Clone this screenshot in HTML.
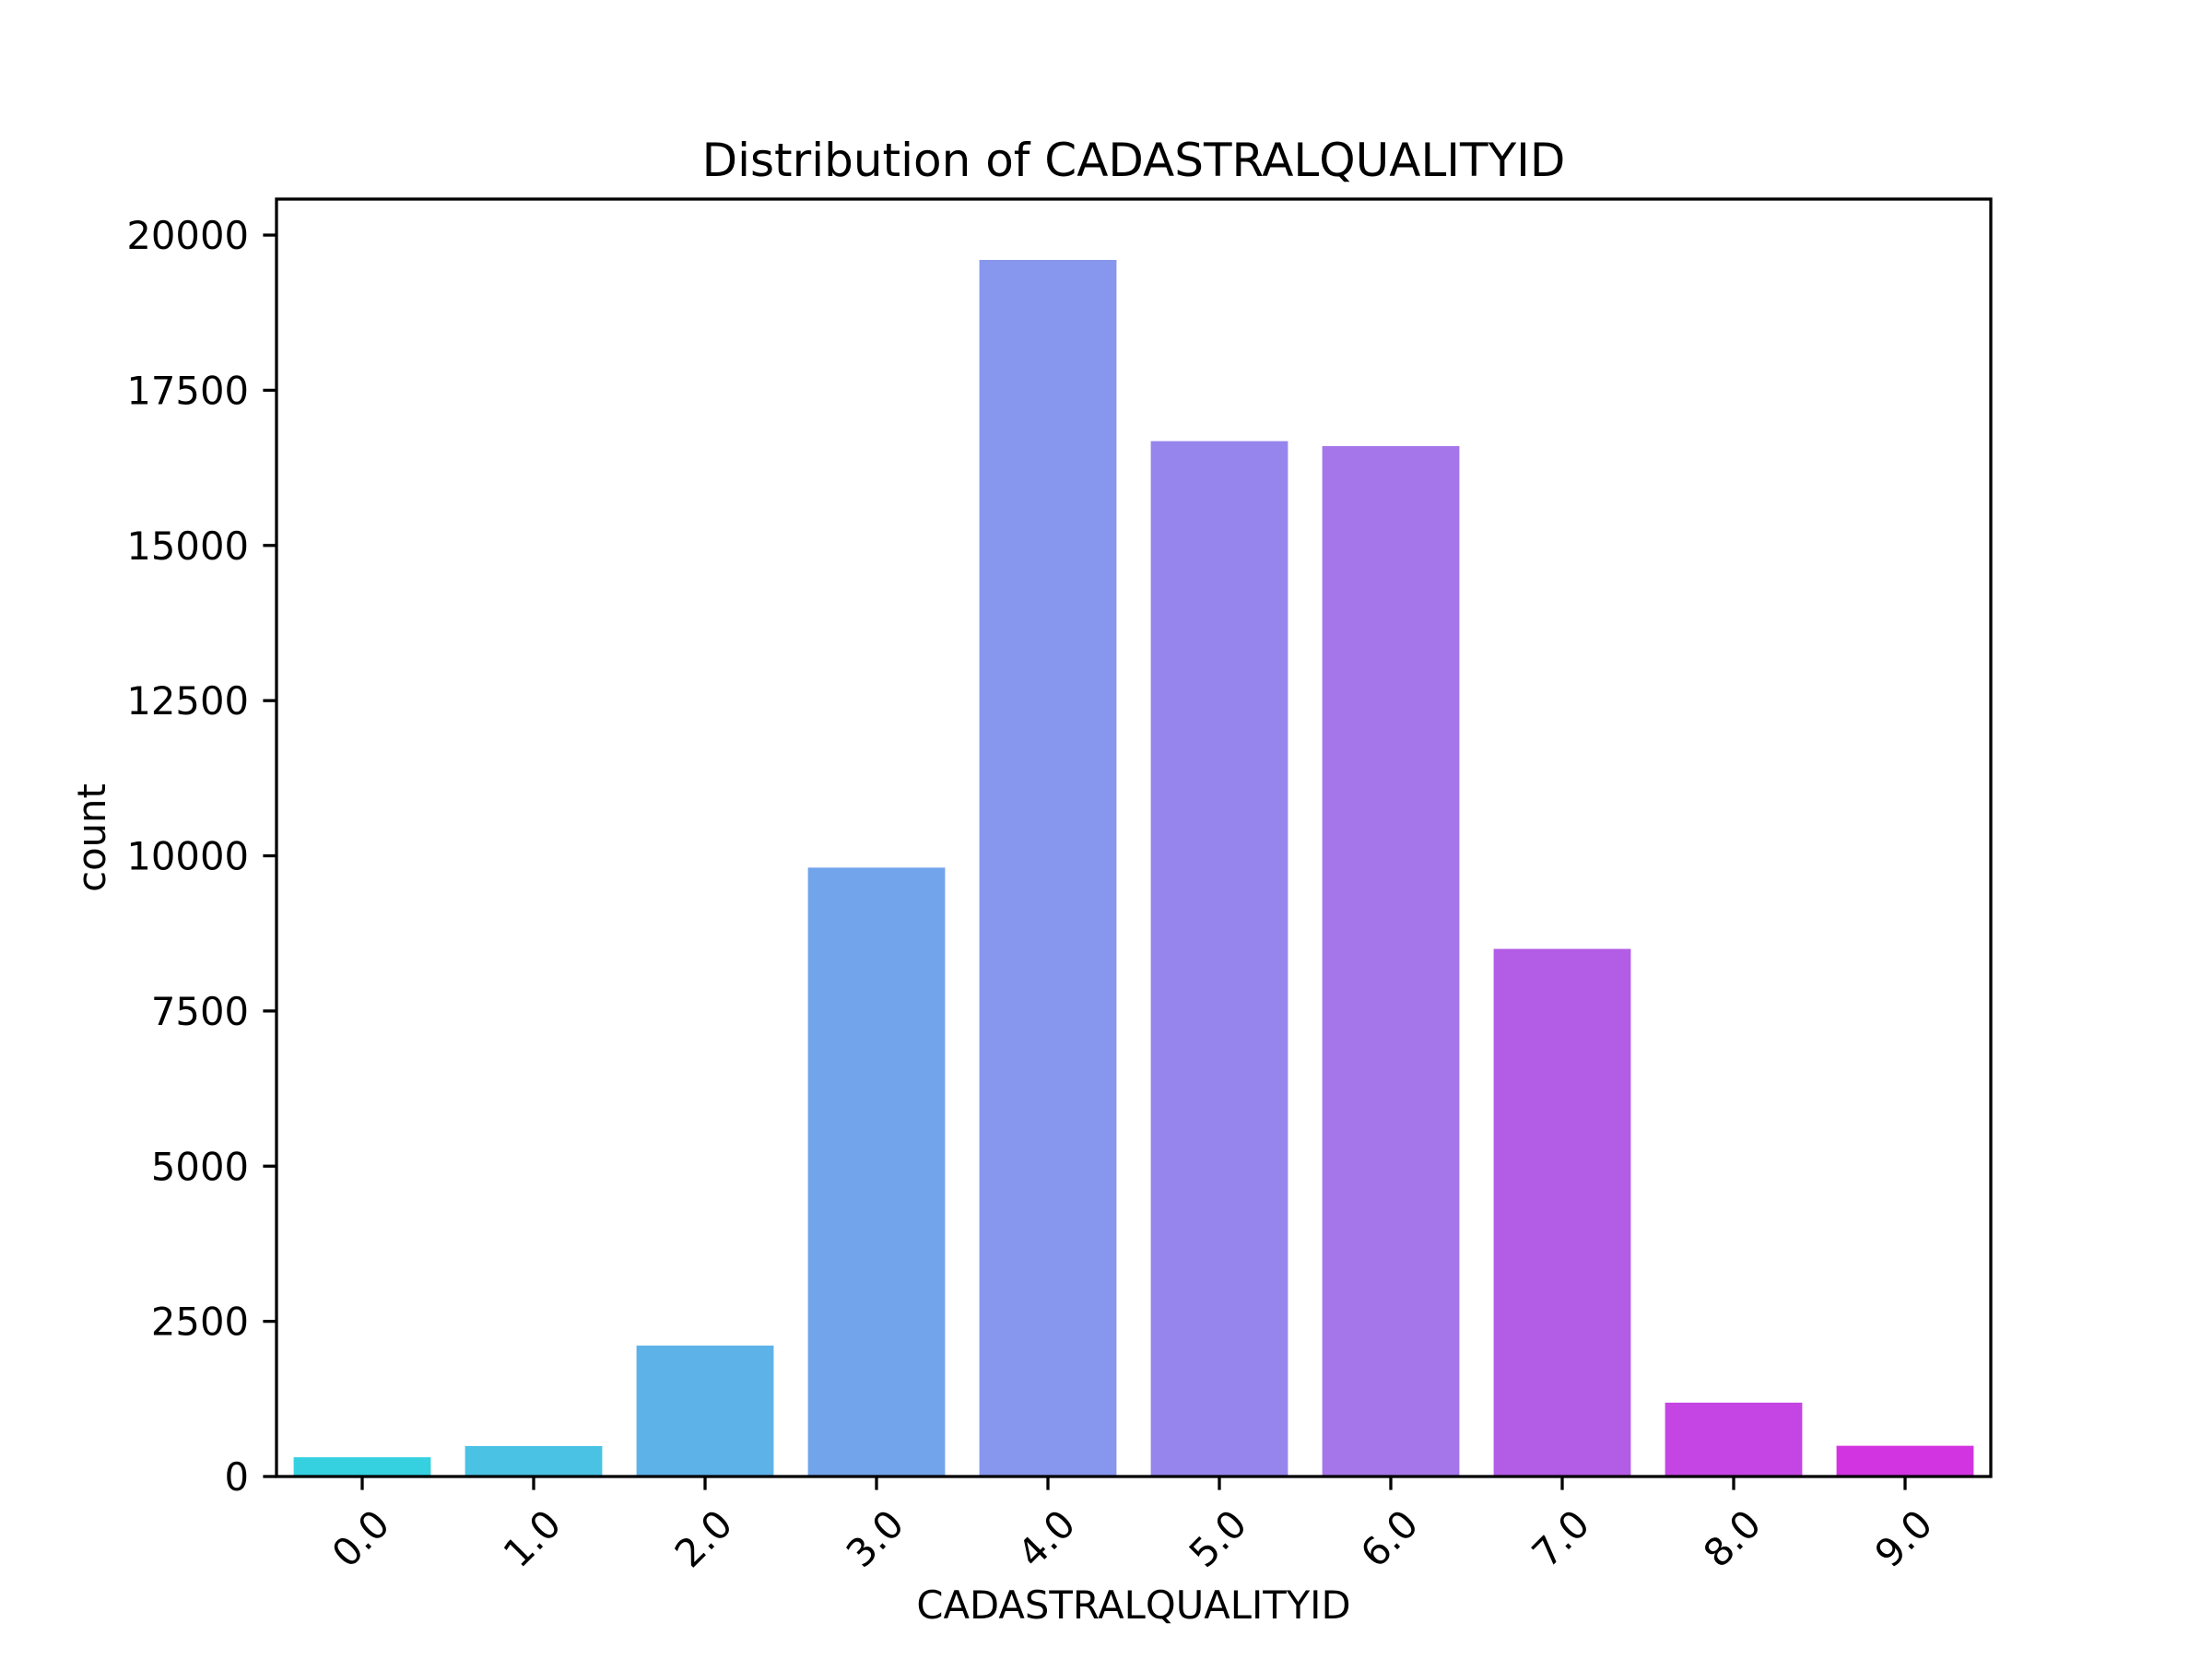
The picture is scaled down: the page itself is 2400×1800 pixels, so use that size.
<!DOCTYPE html>
<html><head><meta charset="utf-8"><style>
html,body{margin:0;padding:0;background:#fff}
svg{display:block}
text{font-family:"DejaVu Sans","Liberation Sans",sans-serif;fill:#000}
</style></head><body>
<svg id="chart" width="2400" height="1800" viewBox="0 0 2400 1800">
<rect x="0" y="0" width="2400" height="1800" fill="#fff"/>
<text x="1230" y="191" font-size="50" text-anchor="middle">Distribution of CADASTRALQUALITYID</text>
<g id="bars"></g>
<g id="yticks"></g>
<g id="xticks"></g>
<rect x="300" y="216" width="1860" height="1386" fill="none" stroke="#000" stroke-width="3.3"/>
<text x="1230" y="1756" font-size="41.7" text-anchor="middle">CADASTRALQUALITYID</text>
<text x="0" y="0" font-size="41.7" text-anchor="middle" transform="translate(114,909) rotate(-90)">count</text>
</svg>
<script>
const categories = ["0.0","1.0","2.0","3.0","4.0","5.0","6.0","7.0","8.0","9.0"];
const counts = [310, 490, 2110, 9810, 19600, 16680, 16600, 8500, 1190, 495];
const colors = ["#35d1e0","#49c2e3","#5db3e8","#72a4eb","#8797ee","#9785ee","#a575ea","#b35ce6","#c445e3","#d134e0"];
const yTicks = [0, 2500, 5000, 7500, 10000, 12500, 15000, 17500, 20000];

const NS = "http://www.w3.org/2000/svg";
const L = 300, R = 2160, T = 216, B = 1602;
const yMax = Math.max(...counts) * 1.05;
const step = (R - L) / categories.length;
function xPos(i){ return L + step * (i + 0.5); }
function yPos(v){ return B - (v / yMax) * (B - T); }

const gb = document.getElementById('bars');
counts.forEach((v, i) => {
  const r = document.createElementNS(NS, 'rect');
  const w = step * 0.8;
  r.setAttribute('x', xPos(i) - w / 2);
  r.setAttribute('y', yPos(v));
  r.setAttribute('width', w);
  r.setAttribute('height', B - yPos(v));
  r.setAttribute('fill', colors[i % colors.length]);
  
  
  gb.appendChild(r);
});

const gy = document.getElementById('yticks');
yTicks.forEach(t => {
  const y = yPos(t);
  const l = document.createElementNS(NS, 'line');
  l.setAttribute('x1', L - 14.6); l.setAttribute('x2', L);
  l.setAttribute('y1', y); l.setAttribute('y2', y);
  l.setAttribute('stroke', '#000'); l.setAttribute('stroke-width', '3.3');
  
  
  gy.appendChild(l);
  const tx = document.createElementNS(NS, 'text');
  tx.setAttribute('x', L - 30); tx.setAttribute('y', y + 15);
  tx.setAttribute('font-size', '41.7'); tx.setAttribute('text-anchor', 'end');
  tx.textContent = String(t);
  
  
  gy.appendChild(tx);
});

const gx = document.getElementById('xticks');
categories.forEach((c, i) => {
  const x = xPos(i);
  const l = document.createElementNS(NS, 'line');
  l.setAttribute('x1', x); l.setAttribute('x2', x);
  l.setAttribute('y1', B); l.setAttribute('y2', B + 14.6);
  l.setAttribute('stroke', '#000'); l.setAttribute('stroke-width', '3.3');
  
  
  gx.appendChild(l);
  const tx = document.createElementNS(NS, 'text');
  tx.setAttribute('x', 0); tx.setAttribute('y', 15);
  tx.setAttribute('font-size', '41.7'); tx.setAttribute('text-anchor', 'middle');
  tx.setAttribute('transform', 'translate(' + (x - 2) + ',1669) rotate(-45)');
  tx.textContent = c;
  
  
  gx.appendChild(tx);
});
</script>
</body></html>
